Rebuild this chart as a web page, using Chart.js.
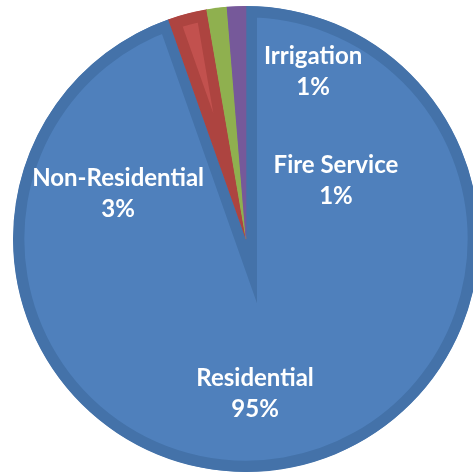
<!DOCTYPE html>
<html lang="en">
<head>
    <meta charset="UTF-8">
    <title>Water Use by Customer Class</title>
    <script src="https://cdn.jsdelivr.net/npm/chart.js@4.4.1/dist/chart.umd.min.js"></script>
    <style>
        html, body { margin: 0; padding: 0; background: #fff; }
        #wrap { position: relative; width: 473px; height: 474px; }
    </style>
</head>
<body>
    <div id="wrap">
        <canvas id="usePie"></canvas>
    </div>

    <script>
        // Customer classes, clockwise from 12 o'clock
        const classes = ['Residential', 'Non-Residential', 'Fire Service', 'Irrigation'];
        const shares = [94.6, 2.7, 1.4, 1.3];

        const fillColors = ['#4f80bc', '#c2514e', '#9bbb59', '#8064a2'];
        const edgeColors = ['#4472a9', '#ad4440', '#8fb04f', '#76599a'];

        // Where each label block sits, as a fraction of the pie radius from the centre
        const labelSpots = [
            [0.039, 0.665],
            [-0.549, -0.193],
            [0.386, -0.249],
            [0.288, -0.717]
        ];

        const pieLabels = {
            id: 'pieLabels',
            afterDatasetsDraw(chart) {
                const ctx = chart.ctx;
                const arcs = chart.getDatasetMeta(0).data;
                const total = shares.reduce((a, b) => a + b, 0);
                ctx.save();
                ctx.fillStyle = '#ffffff';
                ctx.font = 'bold 24px Lato';
                ctx.textAlign = 'center';
                ctx.textBaseline = 'middle';
                arcs.forEach((arc, i) => {
                    const r = arc.outerRadius;
                    const x = arc.x + labelSpots[i][0] * r;
                    const y = arc.y + labelSpots[i][1] * r;
                    const pct = Math.round(shares[i] / total * 100) + '%';
                    ctx.fillText(classes[i], x, y - 15.5);
                    ctx.fillText(pct, x, y + 15.5);
                });
                ctx.restore();
            }
        };

        new Chart(document.getElementById('usePie'), {
            type: 'pie',
            data: {
                labels: classes,
                datasets: [{
                    data: shares,
                    backgroundColor: fillColors,
                    borderColor: edgeColors,
                    borderWidth: 11,
                    borderAlign: 'inner',
                    borderJoinStyle: 'miter'
                }]
            },
            options: {
                responsive: true,
                maintainAspectRatio: false,
                animation: false,
                radius: 233,
                layout: { padding: { left: 19, top: 4, right: 0, bottom: 0 } },
                plugins: {
                    legend: { display: false },
                    tooltip: { enabled: false }
                }
            },
            plugins: [pieLabels]
        });
    </script>
</body>
</html>
